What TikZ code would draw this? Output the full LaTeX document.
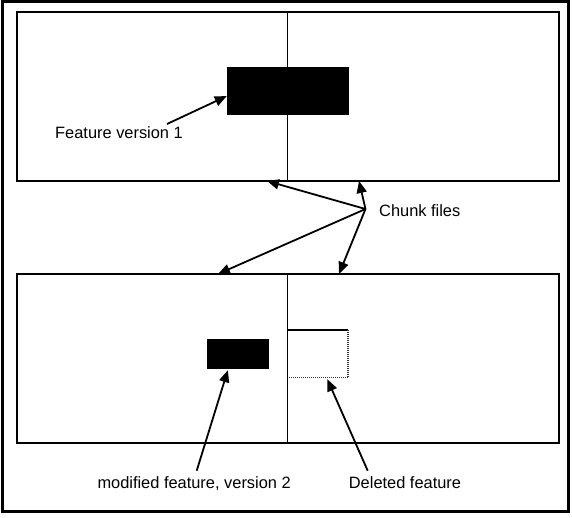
\documentclass[tikz,border=0pt]{standalone}
\usepackage{fontspec}
\setmainfont{Liberation Sans}
\usetikzlibrary{arrows.meta}
\begin{document}
\begin{tikzpicture}[x=1pt,y=-1pt,
  panel/.style={draw=black,line width=1.7pt},
  feat/.style={fill=black,draw=none},
  lbl/.style={anchor=base west,inner sep=0pt,font=\fontsize{16.4}{19}\selectfont},
  arr/.style={line width=1.8pt,-{Triangle[length=12pt,width=10pt]}}]
\useasboundingbox (0,0) rectangle (572,517);
% outer frame
\draw[line width=3pt] (2.5,1.5) rectangle (568.5,511.5);
% panels
\draw[panel] (17,12) rectangle (559,181);
\draw[panel] (17,274) rectangle (559,443);
\draw[panel] (287.5,12) -- (287.5,181);
% feature boxes
\fill[feat] (227,67) rectangle (349,115);
\node[inner sep=0pt,minimum width=0pt] (f1) at (227,96) {};
\draw[panel] (287.5,274) -- (287.5,443);
\fill[feat] (207,339) rectangle (269,369);
\node[inner sep=0pt] (f2) at (228,369.5) {};
% deleted feature
\draw[line width=1.2pt] (288,330) -- (348,330);
\draw[line width=1.2pt,dash pattern=on 1pt off 1pt,black!80] (348,330) -- (348,377.5) -- (288,377.5);
\node[inner sep=0pt] (del) at (327,378.5) {};
% labels
\node[lbl] (l1) at (55,138) {Feature version 1};
\node[lbl] (lc) at (379,216) {Chunk files};
\node[lbl] (l2) at (97.3,488.3) {modified feature, version 2};
\node[lbl] (l3) at (348.7,488.3) {Deleted feature};
% arrow anchors
\coordinate (s1) at (167,124);
\coordinate (sc) at (365.5,209);
\coordinate (t1) at (267,181);
\coordinate (t2) at (359,181);
\coordinate (t3) at (218,274);
\coordinate (t4) at (339,274);
\coordinate (s2) at (196.7,470.7);
\coordinate (s3) at (367.7,470.7);
% arrows
\draw[arr] (s1) -- (f1);
\draw[arr] (sc) -- (t1);
\draw[arr] (sc) -- (t2);
\draw[arr] (sc) -- (t3);
\draw[arr] (sc) -- (t4);
\draw[arr] (s2) -- (f2);
\draw[arr] (s3) -- (del);
\end{tikzpicture}
\end{document}
